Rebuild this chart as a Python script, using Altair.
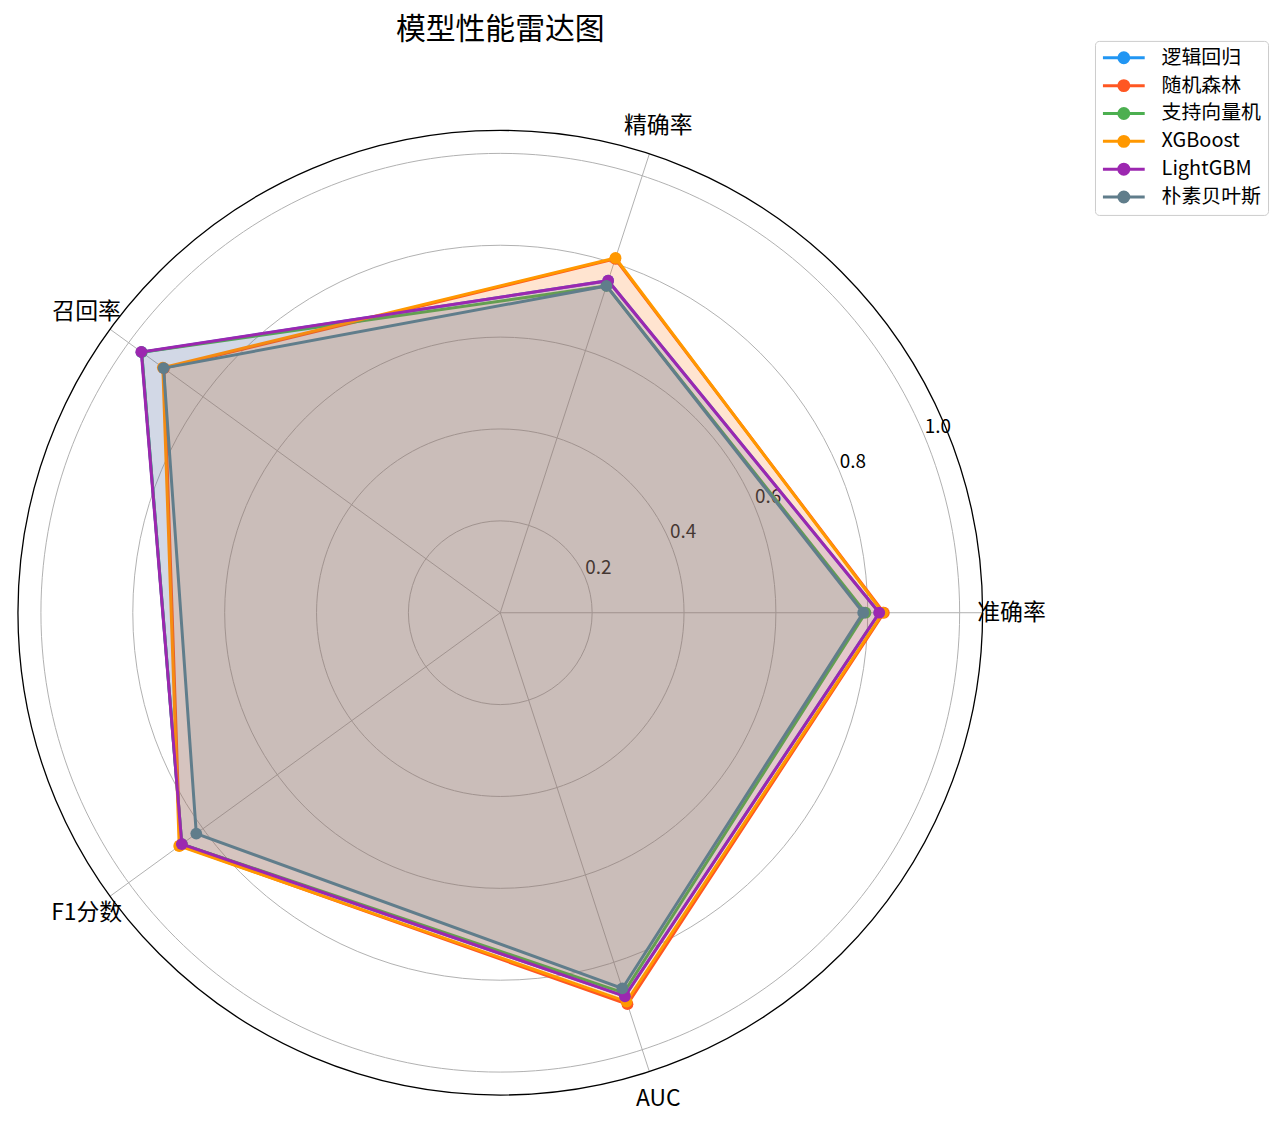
import math
import altair as alt
import pandas as pd

FONT = "Noto Sans CJK SC"

# ---- data -------------------------------------------------------------
metrics = ["准确率", "精确率", "召回率", "F1分数", "AUC"]
models = ["逻辑回归", "随机森林", "支持向量机", "XGBoost", "LightGBM", "朴素贝叶斯"]
colors = ["#2196F3", "#FF5722", "#4CAF50", "#FF9800", "#9C27B0", "#607D8B"]

lr_vals = [0.825, 0.76, 0.965, 0.857, 0.878]
rf_vals = [0.835, 0.81, 0.905, 0.862, 0.896]
svm_vals = [0.795, 0.748, 0.965, 0.857, 0.87]
xgb_vals = [0.833, 0.812, 0.908, 0.864, 0.89]
lgbm_vals = [0.825, 0.76, 0.966, 0.857, 0.878]
nb_vals = [0.79, 0.748, 0.906, 0.818, 0.86]

r_ticks = [0.2, 0.4, 0.6, 0.8, 1.0]
r_tick_labels = ["0.2", "0.4", "0.6", "0.8", "1.0"]

series = [lr_vals, rf_vals, svm_vals, xgb_vals, lgbm_vals, nb_vals]
rows = []
for m, vals in zip(models, series):
    for i, (met, v) in enumerate(zip(metrics, vals)):
        rows.append({"model": m, "metric": met, "idx": i, "value": v})
df = pd.DataFrame(rows)
axes_df = pd.DataFrame({"metric": metrics, "idx": list(range(len(metrics)))})
ticks_df = pd.DataFrame({"r": r_ticks, "label": r_tick_labels})

# ---- scales -----------------------------------------------------------
R_MAX = 1.05
W = 970
N = len(metrics)
xs = alt.Scale(domain=[-R_MAX, R_MAX], nice=False, zero=False)
ys = alt.Scale(domain=[-R_MAX, R_MAX], nice=False, zero=False)
# custom circle symbol: radius in px = sqrt(size)/2
CIRCLE = "M1,0A1,1,0,1,1,-1,0A1,1,0,1,1,1,0Z"
ss = alt.Scale(type="pow", exponent=2, domain=[0, R_MAX], range=[0, W * W], zero=True, nice=False)
color_scale = alt.Scale(domain=models, range=colors)

ANG = f"datum.idx * 2 * PI / {N}"

# ---- grid -------------------------------------------------------------
grid = alt.Chart(ticks_df).transform_calculate(c0="0").mark_point(
    shape=CIRCLE, filled=False, stroke="#b0b0b0", strokeWidth=1, opacity=1
).encode(
    x=alt.X("c0:Q", scale=xs, axis=None),
    y=alt.Y("c0:Q", scale=ys, axis=None),
    size=alt.Size("r:Q", scale=ss, legend=None),
)

outer = alt.Chart(pd.DataFrame({"r": [R_MAX]})).transform_calculate(c0="0").mark_point(
    shape=CIRCLE, filled=False, stroke="black", strokeWidth=1.3, opacity=1
).encode(
    x=alt.X("c0:Q", scale=xs, axis=None),
    y=alt.Y("c0:Q", scale=ys, axis=None),
    size=alt.Size("r:Q", scale=ss, legend=None),
)

spokes = alt.Chart(axes_df).transform_calculate(
    a=ANG, x0="0", y0="0",
    x1=f"{R_MAX} * cos(datum.a)", y1=f"{R_MAX} * sin(datum.a)"
).mark_rule(color="#b0b0b0", strokeWidth=1).encode(
    x=alt.X("x0:Q", scale=xs, axis=None),
    y=alt.Y("y0:Q", scale=ys, axis=None),
    x2="x1:Q", y2="y1:Q",
)

tick_text = alt.Chart(ticks_df).transform_calculate(
    tx="datum.r * cos(PI / 8)", ty="datum.r * sin(PI / 8)"
).mark_text(align="left", baseline="bottom", font=FONT, fontSize=19, color="black").encode(
    x=alt.X("tx:Q", scale=xs, axis=None),
    y=alt.Y("ty:Q", scale=ys, axis=None),
    text="label:N",
)

cat_text = alt.Chart(axes_df).transform_calculate(
    a=ANG, tx="1.113 * cos(datum.a)", ty="1.113 * sin(datum.a)"
).mark_text(align="center", baseline="middle", font=FONT, fontSize=23, color="black").encode(
    x=alt.X("tx:Q", scale=xs, axis=None),
    y=alt.Y("ty:Q", scale=ys, axis=None),
    text="metric:N",
)

# ---- legend -----------------------------------------------------------
def ring(r):
    return f"M{r},0A{r},{r},0,1,1,{-r},0A{r},{r},0,1,1,{r},0"

# symbol scale: 7 px per unit (size 196); line 42 px, filled dot ~13 px
SYMBOL = "M-3,0L3,0" + ring(0.214) + ring(0.5) + ring(0.714)
legend = alt.Legend(
    title=None, orient="none", legendX=1083, legendY=-90,
    symbolType=SYMBOL, symbolSize=196, symbolStrokeWidth=3, symbolOpacity=1,
    symbolOffset=12,
    labelFont=FONT, labelFontSize=20, labelColor="black", labelOffset=28,
    fillColor="white", strokeColor="#cccccc", cornerRadius=4, padding=7, rowPadding=6,
)

# ---- model polygons ---------------------------------------------------
layers = [grid, spokes, tick_text, outer]
for k, (m, c) in enumerate(zip(models, colors)):
    base = alt.Chart(df).transform_filter(alt.datum.model == m).transform_calculate(
        a=ANG, px="datum.value * cos(datum.a)", py="datum.value * sin(datum.a)"
    )
    poly = base.mark_line(
        interpolate="linear-closed", fill=c, fillOpacity=0.1, strokeWidth=3
    ).encode(
        x=alt.X("px:Q", scale=xs, axis=None),
        y=alt.Y("py:Q", scale=ys, axis=None),
        color=alt.Color("model:N", scale=color_scale, legend=legend if k == 0 else None),
        order="idx:Q",
    )
    pts = base.mark_circle(size=140, opacity=1).encode(
        x=alt.X("px:Q", scale=xs, axis=None),
        y=alt.Y("py:Q", scale=ys, axis=None),
        color=alt.Color("model:N", scale=color_scale, legend=None),
    )
    layers += [poly, pts]
layers.append(cat_text)

chart = alt.layer(*layers).properties(
    width=W, height=W,
    padding={"left": 7, "top": 4, "right": 3, "bottom": 5},
    title=alt.Title("模型性能雷达图", font=FONT, fontSize=30, fontWeight="normal",
                    color="black", anchor="middle", offset=-5),
).configure_view(stroke=None)

chart.save("out.html", embed_options={"renderer": "svg", "actions": False})
